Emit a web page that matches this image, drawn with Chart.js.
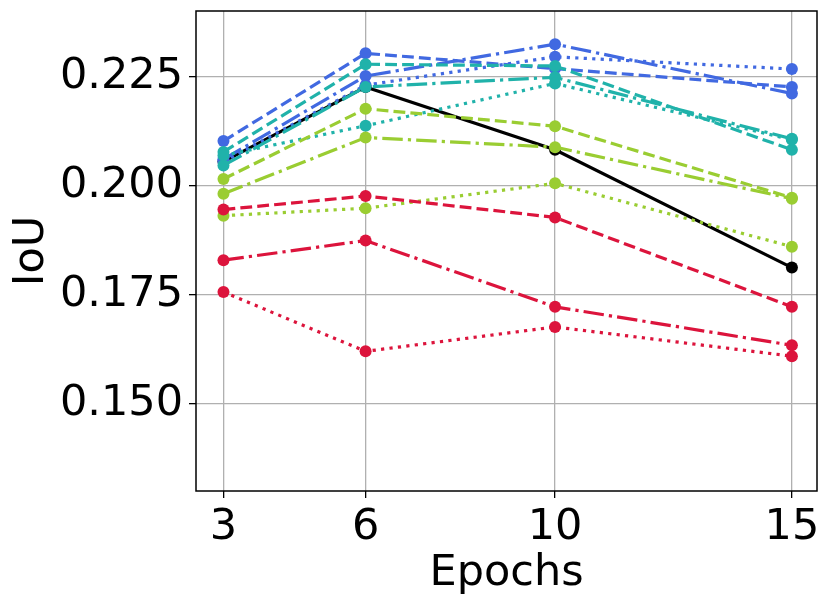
<!DOCTYPE html>
<html>
<head>
<meta charset="utf-8">
<script src="https://cdn.jsdelivr.net/npm/chart.js@4.4.1/dist/chart.umd.min.js"></script>
<style>
html, body { margin: 0; padding: 0; background: #fff; }
</style>
</head>
<body>
<canvas id="chart" width="830" height="604"></canvas>
<script>
const epochs = [3, 6, 10, 15];
const xTicks = [3, 6, 10, 15];
const yTicks = [0.150, 0.175, 0.200, 0.225];

const baseline = [0.2055, 0.2226, 0.2082, 0.1812];
const blueDashed = [0.2102, 0.2303, 0.2268, 0.2226];
const blueDashDot = [0.2060, 0.2251, 0.2324, 0.2211];
const blueDotted = [0.2055, 0.2230, 0.2295, 0.2267];
const tealDashed = [0.2077, 0.2278, 0.2274, 0.2082];
const tealDashDot = [0.2046, 0.2226, 0.2248, 0.2107];
const tealDotted = [0.2069, 0.2137, 0.2234, 0.2105];
const greenDashed = [0.2015, 0.2176, 0.2136, 0.1972];
const greenDashDot = [0.1981, 0.2110, 0.2088, 0.1970];
const greenDotted = [0.1931, 0.1948, 0.2005, 0.1860];
const redDashed = [0.1945, 0.1976, 0.1927, 0.1722];
const redDashDot = [0.1829, 0.1874, 0.1722, 0.1634];
const redDotted = [0.1756, 0.1620, 0.1676, 0.1609];

const lw = 3.2;
const dashes = {
  solid: [],
  dashed: [3.7 * lw, 1.6 * lw],
  dashdot: [6.4 * lw, 1.6 * lw, 1 * lw, 1.6 * lw],
  dotted: [1 * lw, 1.65 * lw]
};

// drawn in this order, first one at the bottom
const series = [
  [baseline, '#000000', 'solid'],
  [blueDashed, '#4169E1', 'dashed'],
  [blueDashDot, '#4169E1', 'dashdot'],
  [blueDotted, '#4169E1', 'dotted'],
  [tealDashed, '#20B2AA', 'dashed'],
  [tealDashDot, '#20B2AA', 'dashdot'],
  [tealDotted, '#20B2AA', 'dotted'],
  [greenDashed, '#9ACD32', 'dashed'],
  [greenDashDot, '#9ACD32', 'dashdot'],
  [greenDotted, '#9ACD32', 'dotted'],
  [redDashed, '#DC143C', 'dashed'],
  [redDashDot, '#DC143C', 'dashdot'],
  [redDotted, '#DC143C', 'dotted']
];

const datasets = series.map(([vals, color, style], i) => ({
  data: epochs.map((e, j) => ({ x: e, y: vals[j] })),
  borderColor: color,
  backgroundColor: color,
  borderWidth: lw,
  borderDash: dashes[style],
  borderCapStyle: 'butt',
  pointRadius: 6,
  pointHoverRadius: 6,
  pointBorderWidth: 0,
  pointBackgroundColor: color,
  tension: 0,
  fill: false,
  order: series.length - i
}));

const frame = {
  id: 'frame',
  afterDraw(chart) {
    const { ctx, chartArea: a } = chart;
    ctx.save();
    ctx.strokeStyle = '#000';
    ctx.lineWidth = 1.5;
    ctx.strokeRect(a.left, a.top, a.right - a.left, a.bottom - a.top);
    ctx.restore();
  }
};

const font = { family: 'DejaVu Sans', size: 43 };

new Chart(document.getElementById('chart').getContext('2d'), {
  type: 'line',
  data: { datasets },
  options: {
    responsive: false,
    animation: false,
    devicePixelRatio: 1,
    layout: { padding: { top: 11, right: 13, left: 0, bottom: 0 } },
    plugins: { legend: { display: false }, tooltip: { enabled: false } },
    scales: {
      x: {
        type: 'linear',
        min: 2.42,
        max: 15.53,
        afterBuildTicks: s => { s.ticks = xTicks.map(v => ({ value: v })); },
        afterFit: s => { s.height = 113; s.paddingLeft = 0; s.paddingRight = 0; },
        grid: { color: '#b0b0b0', lineWidth: 1.3, tickColor: '#000', tickLength: 7 },
        border: { display: false },
        ticks: { font, color: '#000', padding: 4, maxRotation: 0, autoSkip: false },
        title: { display: true, text: 'Epochs', font, color: '#000', padding: { top: 0, bottom: 4 } }
      },
      y: {
        min: 0.13,
        max: 0.24,
        afterBuildTicks: s => { s.ticks = yTicks.map(v => ({ value: v })); },
        afterFit: s => { s.width = 196; s.paddingTop = 0; s.paddingBottom = 0; },
        grid: { color: '#b0b0b0', lineWidth: 1.3, tickColor: '#000', tickLength: 7 },
        border: { display: false },
        ticks: { font, color: '#000', padding: 6, callback: v => v.toFixed(3) },
        title: { display: true, text: 'IoU', font, color: '#000', padding: { top: 6, bottom: 0 } }
      }
    }
  },
  plugins: [frame]
});
</script>
</body>
</html>
